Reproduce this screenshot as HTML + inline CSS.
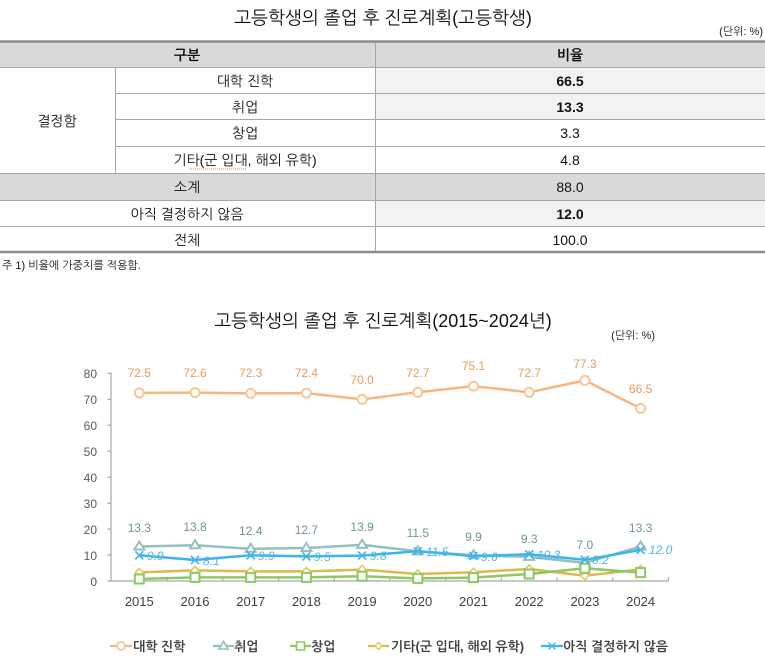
<!DOCTYPE html>
<html><head><meta charset="utf-8"><style>
html,body{margin:0;padding:0;background:#fff;}
svg{display:block;}
text{font-family:"Liberation Sans","NanumGothic","Noto Sans CJK KR",sans-serif;}
</style></head><body>
<svg width="765" height="661" viewBox="0 0 765 661" xmlns="http://www.w3.org/2000/svg">
<!-- Table title -->
<text x="383" y="24" font-size="18" text-anchor="middle" fill="#111">고등학생의 졸업 후 진로계획(고등학생)</text>
<text x="763" y="35" font-size="11" text-anchor="end" fill="#222">(단위: %)</text>

<!-- fills -->
<rect x="0" y="42" width="765" height="26" fill="#d9d9d9"/>
<rect x="375" y="68" width="390" height="51" fill="#f2f2f2"/>
<rect x="0" y="173" width="765" height="27" fill="#d9d9d9"/>
<rect x="375" y="200" width="390" height="26" fill="#f2f2f2"/>

<!-- lines -->
<g stroke="#a6a6a6" stroke-width="1">
<line x1="0" y1="67.5" x2="765" y2="67.5"/>
<line x1="115" y1="93.5" x2="765" y2="93.5"/>
<line x1="115" y1="119.5" x2="765" y2="119.5"/>
<line x1="115" y1="146.5" x2="765" y2="146.5"/>
<line x1="0" y1="173.5" x2="765" y2="173.5"/>
<line x1="0" y1="200.5" x2="765" y2="200.5"/>
<line x1="0" y1="226.5" x2="765" y2="226.5"/>
<line x1="375.5" y1="42" x2="375.5" y2="252"/>
<line x1="115.5" y1="68" x2="115.5" y2="173"/>
</g>
<line x1="0" y1="41.5" x2="765" y2="41.5" stroke="#8c8c8c" stroke-width="2.5"/>
<line x1="0" y1="252" x2="765" y2="252" stroke="#8c8c8c" stroke-width="2.5"/>

<g font-size="14" fill="#111" text-anchor="middle">
<text x="187" y="60" font-weight="bold">구분</text>
<text x="570" y="60" font-weight="bold">비율</text>
<text x="57" y="126">결정함</text>
<text x="245" y="86">대학 진학</text>
<text x="245" y="112">취업</text>
<text x="245" y="138">창업</text>
<text x="245" y="165">기타(군 입대, 해외 유학)</text>
<text x="187" y="192">소계</text>
<text x="187" y="219">아직 결정하지 않음</text>
<text x="187" y="245">전체</text>
<text x="570" y="86" font-weight="bold">66.5</text>
<text x="570" y="112" font-weight="bold">13.3</text>
<text x="570" y="138">3.3</text>
<text x="570" y="165">4.8</text>
<text x="570" y="192">88.0</text>
<text x="570" y="219" font-weight="bold">12.0</text>
<text x="570" y="245">100.0</text>
</g>
<line x1="189" y1="169" x2="246" y2="169" stroke="#e08a3a" stroke-width="1" stroke-dasharray="1,1"/>
<text x="2" y="269" font-size="11" fill="#111">주 1) 비율에 가중치를 적용함.</text>

<!-- Chart title -->
<text x="383" y="327" font-size="18" text-anchor="middle" fill="#111">고등학생의 졸업 후 진로계획(2015~2024년)</text>
<text x="655" y="339" font-size="11" text-anchor="end" fill="#222">(단위: %)</text>

<!-- axes -->
<g stroke="#a6a6a6" stroke-width="1.2">
<line x1="111" y1="373" x2="111" y2="581"/>
<line x1="111" y1="581" x2="668" y2="581"/>
<line x1="107.5" y1="373.4" x2="111" y2="373.4"/>
<line x1="107.5" y1="399.4" x2="111" y2="399.4"/>
<line x1="107.5" y1="425.3" x2="111" y2="425.3"/>
<line x1="107.5" y1="451.3" x2="111" y2="451.3"/>
<line x1="107.5" y1="477.2" x2="111" y2="477.2"/>
<line x1="107.5" y1="503.2" x2="111" y2="503.2"/>
<line x1="107.5" y1="529.1" x2="111" y2="529.1"/>
<line x1="107.5" y1="555.1" x2="111" y2="555.1"/>
<line x1="107.5" y1="581" x2="111" y2="581"/>
<line x1="167.2" y1="577.5" x2="167.2" y2="581"/>
<line x1="222.9" y1="577.5" x2="222.9" y2="581"/>
<line x1="278.6" y1="577.5" x2="278.6" y2="581"/>
<line x1="334.3" y1="577.5" x2="334.3" y2="581"/>
<line x1="390" y1="577.5" x2="390" y2="581"/>
<line x1="445.7" y1="577.5" x2="445.7" y2="581"/>
<line x1="501.4" y1="577.5" x2="501.4" y2="581"/>
<line x1="557.1" y1="577.5" x2="557.1" y2="581"/>
<line x1="612.8" y1="577.5" x2="612.8" y2="581"/>
<line x1="668.5" y1="577.5" x2="668.5" y2="581"/>
</g>
<g font-size="12" fill="#595959" text-anchor="end">
<text x="97" y="378">80</text>
<text x="97" y="404">70</text>
<text x="97" y="430">60</text>
<text x="97" y="456">50</text>
<text x="97" y="482">40</text>
<text x="97" y="508">30</text>
<text x="97" y="534">20</text>
<text x="97" y="560">10</text>
<text x="97" y="586">0</text>
</g>
<g font-size="13" fill="#404040" text-anchor="middle">
<text x="139.3" y="606">2015</text>
<text x="195" y="606">2016</text>
<text x="250.7" y="606">2017</text>
<text x="306.4" y="606">2018</text>
<text x="362.1" y="606">2019</text>
<text x="417.8" y="606">2020</text>
<text x="473.5" y="606">2021</text>
<text x="529.2" y="606">2022</text>
<text x="584.9" y="606">2023</text>
<text x="640.6" y="606">2024</text>
</g>

<!-- Orange: 대학 진학 -->
<polyline fill="none" stroke="#f8b57e" stroke-width="2.5" points="139.3,392.9 195,392.6 250.7,393.4 306.4,393.1 362.1,399.4 417.8,392.3 473.5,386.1 529.2,392.3 584.9,380.4 640.6,408.4"/>
<g fill="#fff" stroke="#f9c699" stroke-width="2">
<circle cx="139.3" cy="392.9" r="4.5"/><circle cx="195" cy="392.6" r="4.5"/><circle cx="250.7" cy="393.4" r="4.5"/><circle cx="306.4" cy="393.1" r="4.5"/><circle cx="362.1" cy="399.4" r="4.5"/><circle cx="417.8" cy="392.3" r="4.5"/><circle cx="473.5" cy="386.1" r="4.5"/><circle cx="529.2" cy="392.3" r="4.5"/><circle cx="584.9" cy="380.4" r="4.5"/><circle cx="640.6" cy="408.4" r="4.5"/>
</g>
<g font-size="12" fill="#e89c5e" text-anchor="middle">
<text x="139.3" y="377">72.5</text><text x="195" y="377">72.6</text><text x="250.7" y="377">72.3</text><text x="306.4" y="377">72.4</text><text x="362.1" y="384">70.0</text><text x="417.8" y="377">72.7</text><text x="473.5" y="370">75.1</text><text x="529.2" y="377">72.7</text><text x="584.9" y="368">77.3</text><text x="640.6" y="393">66.5</text>
</g>

<!-- Teal: 취업 -->
<polyline fill="none" stroke="#93c1bf" stroke-width="2.5" points="139.3,546.5 195,545.2 250.7,548.8 306.4,548 362.1,544.9 417.8,551.2 473.5,555.3 529.2,556.9 584.9,562.8 640.6,546.5"/>
<g fill="#fff" stroke="#93c1bf" stroke-width="2">
<polygon points="139.3,541.5 144.3,549.5 134.3,549.5"/>
<polygon points="195,540.2 200,548.2 190,548.2"/>
<polygon points="250.7,543.8 255.7,551.8 245.7,551.8"/>
<polygon points="306.4,543 311.4,551 301.4,551"/>
<polygon points="362.1,539.9 367.1,547.9 357.1,547.9"/>
<polygon points="417.8,546.2 422.8,554.2 412.8,554.2"/>
<polygon points="473.5,550.3 478.5,558.3 468.5,558.3"/>
<polygon points="529.2,551.9 534.2,559.9 524.2,559.9"/>
<polygon points="584.9,557.8 589.9,565.8 579.9,565.8"/>
<polygon points="640.6,541.5 645.6,549.5 635.6,549.5"/>
</g>
<g font-size="12" fill="#6f9694" text-anchor="middle">
<text x="139.3" y="532">13.3</text><text x="195" y="531">13.8</text><text x="250.7" y="535">12.4</text><text x="306.4" y="534">12.7</text><text x="362.1" y="531">13.9</text><text x="417.8" y="537">11.5</text><text x="473.5" y="541">9.9</text><text x="529.2" y="543">9.3</text><text x="584.9" y="549">7.0</text><text x="640.6" y="532">13.3</text>
</g>

<!-- Yellow: 기타 -->
<polyline fill="none" stroke="#d9ba4c" stroke-width="2.5" points="139.3,572.4 195,570.4 250.7,571.4 306.4,571.4 362.1,569.6 417.8,574 473.5,572.2 529.2,569 584.9,575.8 640.6,569.3"/>
<g fill="#fff" stroke="#e2c860" stroke-width="1.6">
<polygon points="139.3,568.4 143.3,572.4 139.3,576.4 135.3,572.4"/>
<polygon points="195,566.4 199,570.4 195,574.4 191,570.4"/>
<polygon points="250.7,567.4 254.7,571.4 250.7,575.4 246.7,571.4"/>
<polygon points="306.4,567.4 310.4,571.4 306.4,575.4 302.4,571.4"/>
<polygon points="362.1,565.6 366.1,569.6 362.1,573.6 358.1,569.6"/>
<polygon points="417.8,570 421.8,574 417.8,578 413.8,574"/>
<polygon points="473.5,568.2 477.5,572.2 473.5,576.2 469.5,572.2"/>
<polygon points="529.2,565 533.2,569 529.2,573 525.2,569"/>
<polygon points="584.9,571.8 588.9,575.8 584.9,579.8 580.9,575.8"/>
<polygon points="640.6,565.3 644.6,569.3 640.6,573.3 636.6,569.3"/>
</g>

<!-- Green: 창업 -->
<polyline fill="none" stroke="#8dc863" stroke-width="2.5" points="139.3,579 195,577.4 250.7,577.4 306.4,577.4 362.1,576.2 417.8,578.4 473.5,577.6 529.2,574 584.9,568.3 640.6,572.6"/>
<g fill="#fff" stroke="#8dc863" stroke-width="2">
<rect x="134.8" y="574.5" width="9" height="9"/>
<rect x="190.5" y="572.9" width="9" height="9"/>
<rect x="246.2" y="572.9" width="9" height="9"/>
<rect x="301.9" y="572.9" width="9" height="9"/>
<rect x="357.6" y="571.7" width="9" height="9"/>
<rect x="413.3" y="573.9" width="9" height="9"/>
<rect x="469" y="573.1" width="9" height="9"/>
<rect x="524.7" y="569.5" width="9" height="9"/>
<rect x="580.4" y="563.8" width="9" height="9"/>
<rect x="636.1" y="568.1" width="9" height="9"/>
</g>

<!-- Blue: 아직 결정하지 않음 -->
<polyline fill="none" stroke="#3db5ec" stroke-width="2.5" points="139.3,555.3 195,560 250.7,555.3 306.4,556.4 362.1,555.6 417.8,551.2 473.5,556.1 529.2,554.3 584.9,559.8 640.6,549.9"/>
<g stroke="#3db5ec" stroke-width="1.6" fill="none">
<path d="M135.3,551.3 L143.3,559.3 M143.3,551.3 L135.3,559.3"/>
<path d="M191,556 L199,564 M199,556 L191,564"/>
<path d="M246.7,551.3 L254.7,559.3 M254.7,551.3 L246.7,559.3"/>
<path d="M302.4,552.4 L310.4,560.4 M310.4,552.4 L302.4,560.4"/>
<path d="M358.1,551.6 L366.1,559.6 M366.1,551.6 L358.1,559.6"/>
<path d="M413.8,547.2 L421.8,555.2 M421.8,547.2 L413.8,555.2"/>
<path d="M469.5,552.1 L477.5,560.1 M477.5,552.1 L469.5,560.1"/>
<path d="M525.2,550.3 L533.2,558.3 M533.2,550.3 L525.2,558.3"/>
<path d="M580.9,555.8 L588.9,563.8 M588.9,555.8 L580.9,563.8"/>
<path d="M636.6,545.9 L644.6,553.9 M644.6,545.9 L636.6,553.9"/>
</g>
<g font-size="12" fill="#4db8e8" font-style="italic">
<text x="147" y="560">9.9</text><text x="203" y="565">8.1</text><text x="258" y="560">9.9</text><text x="314" y="561">9.5</text><text x="370" y="560">9.8</text><text x="426" y="556">11.5</text><text x="481" y="561">9.6</text><text x="537" y="559">10.3</text><text x="592" y="564">8.2</text><text x="649" y="554">12.0</text>
</g>

<!-- Legend -->
<g stroke-width="2.2" fill="#fff">
<line x1="110" y1="646" x2="132" y2="646" stroke="#f8b57e"/>
<circle cx="121" cy="646" r="4" stroke="#f9c699" stroke-width="1.8"/>
<line x1="213" y1="646" x2="234" y2="646" stroke="#93c1bf"/>
<polygon points="223.5,641.5 228,649 219,649" stroke="#93c1bf" stroke-width="1.6"/>
<line x1="290" y1="646" x2="311" y2="646" stroke="#8dc863"/>
<rect x="296.5" y="642" width="8" height="8" stroke="#8dc863" stroke-width="1.6"/>
<line x1="368" y1="646" x2="389" y2="646" stroke="#d9ba4c"/>
<polygon points="378.5,642.5 382,646 378.5,649.5 375,646" stroke="#e2c860" stroke-width="1.4"/>
<line x1="541" y1="646" x2="563" y2="646" stroke="#3db5ec"/>
<path d="M548.5,642.5 L555.5,649.5 M555.5,642.5 L548.5,649.5" stroke="#3db5ec" stroke-width="1.4"/>
</g>
<g font-size="13" fill="#404040" font-weight="bold">
<text x="133" y="651">대학 진학</text>
<text x="234" y="651">취업</text>
<text x="311" y="651">창업</text>
<text x="391" y="651">기타(군 입대, 해외 유학)</text>
<text x="563" y="651">아직 결정하지 않음</text>
</g>
</svg>
</body></html>
